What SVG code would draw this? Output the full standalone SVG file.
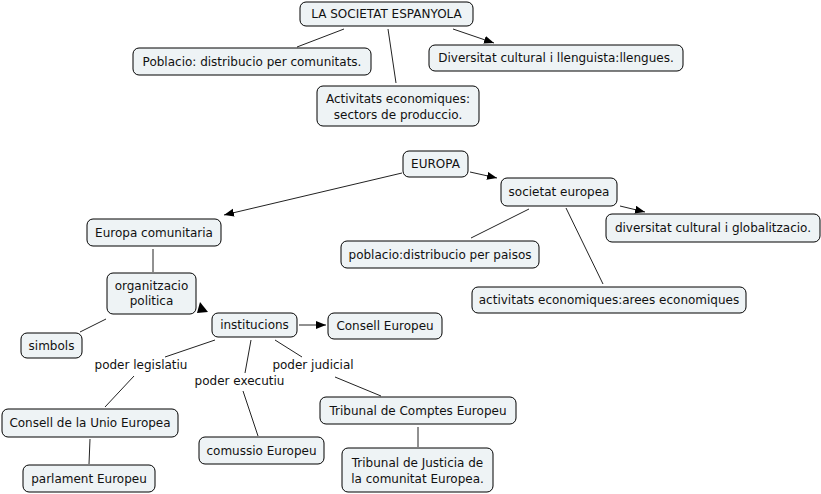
<svg xmlns="http://www.w3.org/2000/svg" width="821" height="494" viewBox="0 0 821 494">
<style>
.n rect{fill:#eef3f5;stroke:#000;stroke-width:1}
text{font-family:"DejaVu Sans",Verdana,sans-serif;font-size:12px;fill:#111;text-anchor:middle;dominant-baseline:central}
.c line{stroke:#222;stroke-width:1}
.a{marker-end:url(#ah)}
</style>
<defs>
<marker id="ah" markerUnits="userSpaceOnUse" markerWidth="11" markerHeight="9" refX="10" refY="4" orient="auto">
<path d="M0,0 L10,4 L0,8 z" fill="#000"/>
</marker>
</defs>
<rect width="821" height="494" fill="#fff"/>
<g id="connectors" class="c">
<line x1="344" y1="29" x2="297" y2="47"/>
<line x1="388" y1="29" x2="396" y2="83"/>
<line class="a" x1="453" y1="29" x2="494" y2="43"/>
<line class="a" x1="402" y1="173" x2="224" y2="215"/>
<line class="a" x1="470" y1="172" x2="497" y2="178"/>
<line class="a" x1="620" y1="206" x2="645" y2="212"/>
<line x1="529" y1="209" x2="471" y2="238"/>
<line x1="566" y1="208" x2="603" y2="284"/>
<line x1="153" y1="249" x2="153" y2="272"/>
<line x1="106" y1="319" x2="80" y2="332"/>
<polygon points="200,302 197,313 208,312" fill="#000"/>
<line class="a" x1="299" y1="325" x2="326" y2="325"/>
<line x1="215" y1="340" x2="165" y2="357"/>
<line x1="134" y1="376" x2="105" y2="407"/>
<line x1="251" y1="340" x2="245" y2="373"/>
<line x1="243" y1="391" x2="258" y2="436"/>
<line x1="275" y1="340" x2="302" y2="357"/>
<line x1="335" y1="377" x2="381" y2="396"/>
<line x1="90" y1="439" x2="89" y2="464"/>
<line x1="418" y1="427" x2="418" y2="447"/>
</g>
<g id="n1" class="n"><rect x="300" y="2" width="173" height="24" rx="6"/><text x="386.5" y="14">LA SOCIETAT ESPANYOLA</text></g>
<g id="n2" class="n"><rect x="133" y="48" width="238" height="27" rx="6"/><text x="252" y="61.5">Poblacio: distribucio per comunitats.</text></g>
<g id="n3" class="n"><rect x="429" y="45" width="254" height="26" rx="6"/><text x="556" y="58">Diversitat cultural i llenguista:llengues.</text></g>
<g id="n4" class="n"><rect x="317" y="86" width="162" height="40" rx="6"/><text x="398" y="98.5">Activitats economiques:</text><text x="398" y="114.5">sectors de produccio.</text></g>
<g id="n5" class="n"><rect x="403" y="151" width="65" height="26" rx="6"/><text x="435.5" y="164">EUROPA</text></g>
<g id="n6" class="n"><rect x="501" y="178" width="116" height="28" rx="6"/><text x="559" y="192">societat europea</text></g>
<g id="n7" class="n"><rect x="606" y="214" width="214" height="28" rx="6"/><text x="713" y="228">diversitat cultural i globalitzacio.</text></g>
<g id="n8" class="n"><rect x="341" y="241" width="198" height="27" rx="6"/><text x="440" y="254.5">poblacio:distribucio per paisos</text></g>
<g id="n9" class="n"><rect x="472" y="287" width="274" height="26" rx="6"/><text x="609" y="300">activitats economiques:arees economiques</text></g>
<g id="n10" class="n"><rect x="87" y="219" width="134" height="27" rx="6"/><text x="154" y="232.5">Europa comunitaria</text></g>
<g id="n11" class="n"><rect x="107" y="273" width="89" height="41" rx="6"/><text x="151.5" y="286">organitzacio</text><text x="151.5" y="301">politica</text></g>
<g id="n12" class="n"><rect x="212" y="313" width="85" height="24" rx="6"/><text x="254.5" y="325">institucions</text></g>
<g id="n13" class="n"><rect x="328" y="313" width="114" height="26" rx="6"/><text x="385" y="326">Consell Europeu</text></g>
<g id="n14" class="n"><rect x="21" y="333" width="61" height="25" rx="6"/><text x="51.5" y="345.5">simbols</text></g>
<g id="n15" class="n"><rect x="2" y="409" width="176" height="28" rx="6"/><text x="90" y="423">Consell de la Unio Europea</text></g>
<g id="n16" class="n"><rect x="23" y="465" width="132" height="27" rx="6"/><text x="89" y="478.5">parlament Europeu</text></g>
<g id="n17" class="n"><rect x="199" y="437" width="125" height="27" rx="6"/><text x="261.5" y="450.5">comussio Europeu</text></g>
<g id="n18" class="n"><rect x="320" y="397" width="196" height="27" rx="6"/><text x="418" y="410.5">Tribunal de Comptes Europeu</text></g>
<g id="n19" class="n"><rect x="342" y="448" width="151" height="44" rx="6"/><text x="417.5" y="463">Tribunal de Justicia de</text><text x="417.5" y="479">la comunitat Europea.</text></g>
<g id="labels">
<text x="141" y="365">poder legislatiu</text>
<text x="239.5" y="381">poder executiu</text>
<text x="313" y="365">poder judicial</text>
</g>
</svg>
